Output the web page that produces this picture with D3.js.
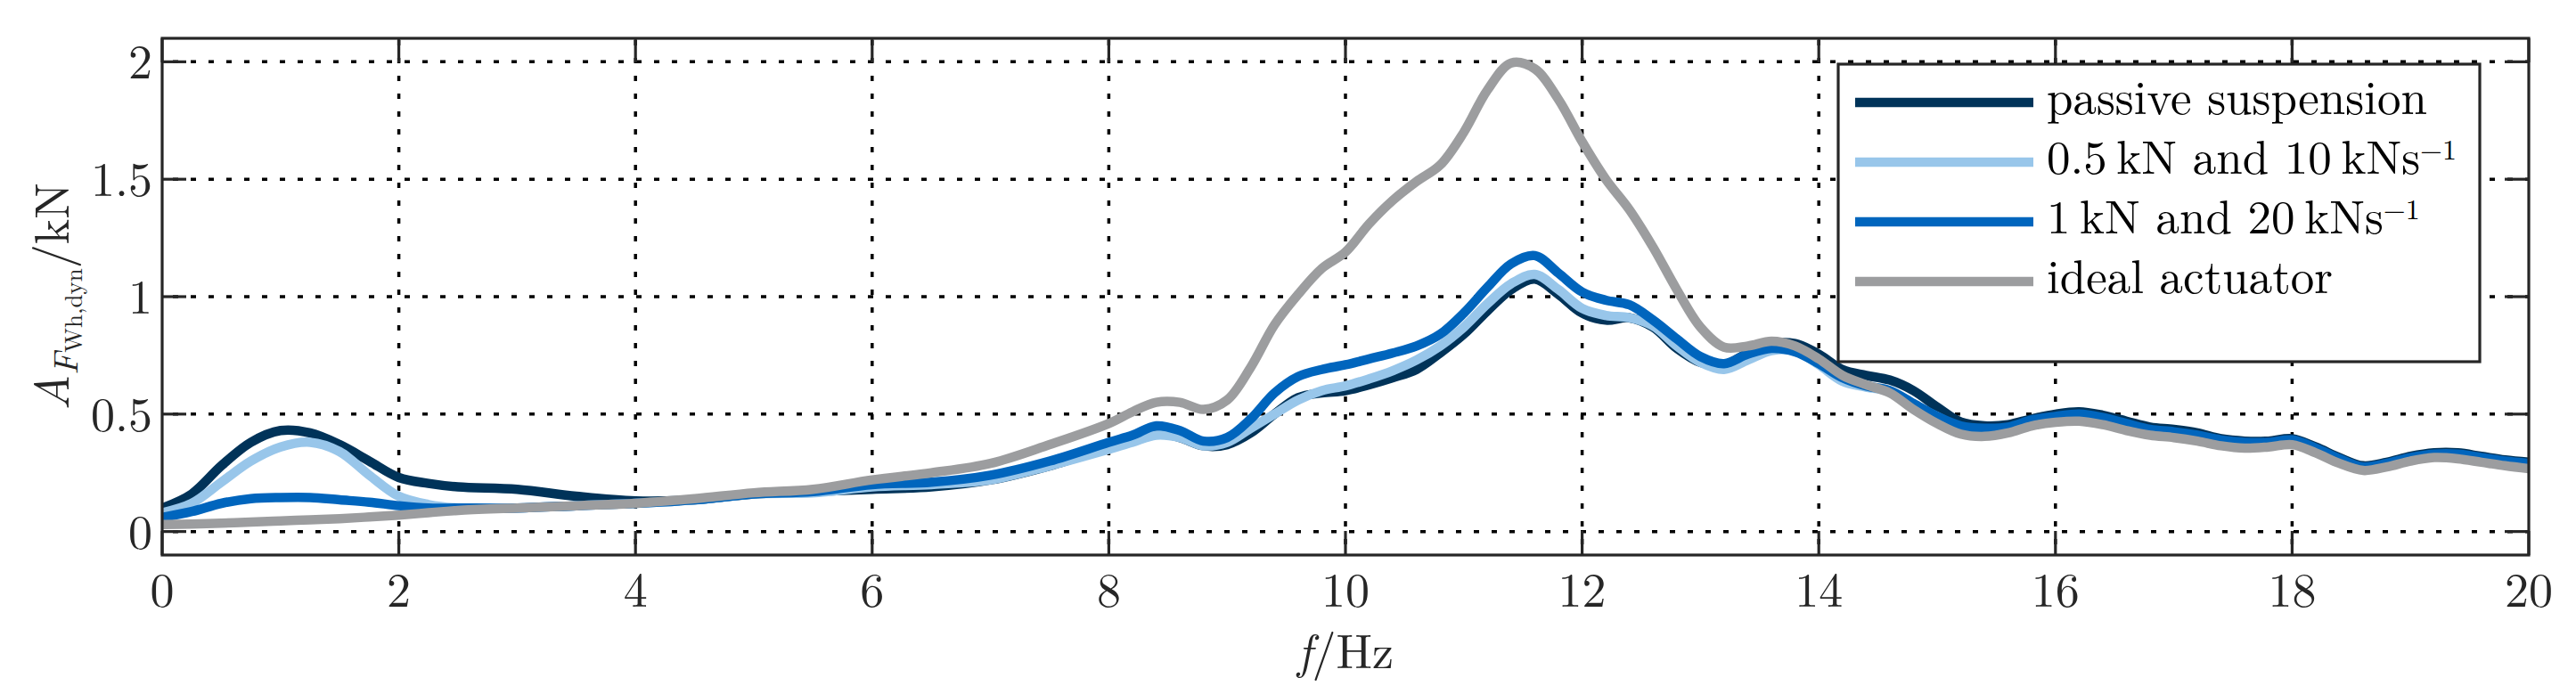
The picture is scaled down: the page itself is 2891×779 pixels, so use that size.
<!DOCTYPE html>
<html><head><meta charset="utf-8">
<script src="https://cdn.jsdelivr.net/npm/d3@7"></script>
<style>
html,body{margin:0;padding:0;background:#fff;}
svg text{font-family:"Latin Modern Roman","CMU Serif","Liberation Serif","DejaVu Serif",serif;fill:#262626;}
</style></head>
<body>
<svg id="chart" width="2891" height="779"></svg>
<script>
const freq = [0,0.25,0.5,0.75,1.0,1.25,1.5,1.75,2.0,2.25,2.5,3.0,3.5,4.0,4.5,5.0,5.5,6.0,6.5,7.0,7.5,8.0,8.2,8.4,8.6,8.8,9.0,9.2,9.4,9.6,9.8,10.0,10.2,10.4,10.6,10.8,11.0,11.2,11.4,11.6,11.8,12.0,12.2,12.4,12.6,12.8,13.0,13.2,13.4,13.6,13.8,14.0,14.2,14.4,14.6,14.8,15.0,15.2,15.4,15.6,15.8,16.0,16.2,16.4,16.6,16.8,17.0,17.2,17.4,17.6,17.8,18.0,18.2,18.4,18.6,18.8,19.0,19.2,19.4,19.6,19.8,20.0];

const passive = [0.10,0.16,0.28,0.38,0.43,0.42,0.37,0.30,0.23,0.205,0.19,0.18,0.15,0.13,0.135,0.16,0.17,0.18,0.19,0.22,0.28,0.36,0.39,0.42,0.40,0.365,0.37,0.42,0.50,0.57,0.59,0.60,0.625,0.655,0.69,0.76,0.84,0.94,1.03,1.075,1.01,0.93,0.90,0.91,0.87,0.78,0.72,0.71,0.76,0.80,0.80,0.755,0.69,0.665,0.645,0.60,0.53,0.466,0.45,0.455,0.48,0.50,0.51,0.495,0.47,0.445,0.435,0.42,0.395,0.385,0.385,0.395,0.36,0.315,0.28,0.295,0.32,0.335,0.335,0.32,0.305,0.295];

const act05 = [0.08,0.12,0.21,0.30,0.36,0.38,0.34,0.24,0.15,0.115,0.10,0.10,0.11,0.12,0.135,0.16,0.165,0.19,0.20,0.22,0.28,0.35,0.38,0.41,0.40,0.365,0.38,0.44,0.50,0.56,0.60,0.62,0.65,0.685,0.73,0.79,0.87,0.97,1.055,1.095,1.03,0.95,0.92,0.91,0.875,0.79,0.72,0.69,0.73,0.77,0.77,0.71,0.64,0.615,0.596,0.54,0.49,0.44,0.43,0.44,0.47,0.485,0.495,0.48,0.455,0.43,0.42,0.405,0.385,0.375,0.375,0.385,0.35,0.305,0.27,0.285,0.31,0.325,0.325,0.31,0.295,0.285];

const act1 = [0.06,0.085,0.12,0.14,0.145,0.145,0.135,0.125,0.11,0.10,0.10,0.10,0.11,0.12,0.135,0.16,0.17,0.20,0.21,0.24,0.30,0.38,0.41,0.45,0.43,0.385,0.40,0.48,0.59,0.66,0.69,0.71,0.735,0.76,0.79,0.84,0.93,1.04,1.14,1.175,1.10,1.02,0.985,0.965,0.90,0.82,0.745,0.715,0.755,0.78,0.765,0.715,0.655,0.62,0.60,0.545,0.49,0.45,0.44,0.445,0.475,0.49,0.50,0.485,0.46,0.435,0.425,0.41,0.39,0.38,0.38,0.39,0.355,0.31,0.275,0.29,0.315,0.33,0.33,0.315,0.30,0.29];

const ideal = [0.03,0.032,0.036,0.04,0.045,0.05,0.055,0.062,0.07,0.08,0.09,0.10,0.11,0.12,0.14,0.165,0.18,0.22,0.25,0.29,0.37,0.46,0.51,0.55,0.55,0.52,0.56,0.70,0.88,1.01,1.12,1.19,1.31,1.41,1.49,1.56,1.70,1.88,1.995,1.97,1.84,1.66,1.50,1.37,1.21,1.03,0.87,0.785,0.79,0.81,0.79,0.735,0.665,0.625,0.59,0.52,0.46,0.415,0.405,0.42,0.45,0.465,0.47,0.455,0.43,0.41,0.40,0.385,0.365,0.355,0.36,0.37,0.335,0.29,0.26,0.275,0.30,0.315,0.31,0.295,0.28,0.268];

const seriesNames = ["passive suspension", "0.5 kN and 10 kNs−1", "1 kN and 20 kNs−1", "ideal actuator"];
const seriesColors = ["#003359", "#98C6EA", "#0065BD", "#9C9D9F"];
const xTicks = [0,2,4,6,8,10,12,14,16,18,20];
const yTicks = [0,0.5,1,1.5,2];
const yTickLabels = ["0","0.5","1","1.5","2"];

const L = 182, R = 2838, T = 43, B = 623;
const svg = d3.select("#chart");
const x = d3.scaleLinear().domain([0,20]).range([L,R]);
const y = d3.scaleLinear().domain([-0.1,2.1]).range([B,T]);
const axisCol = "#262626";
const FS = 54;

// grid
const grid = svg.append("g");
grid.selectAll("line.gx").data(xTicks.slice(1,-1)).join("line")
  .attr("x1", d=>x(d)).attr("x2", d=>x(d)).attr("y1", B).attr("y2", T)
  .attr("stroke","#000").attr("stroke-width",3.5).attr("stroke-dasharray","6,14").attr("stroke-dashoffset",-12);
grid.selectAll("line.gy").data(yTicks).join("line")
  .attr("x1", L).attr("x2", R).attr("y1", d=>y(d)).attr("y2", d=>y(d))
  .attr("stroke","#000").attr("stroke-width",3.5).attr("stroke-dasharray","6,14").attr("stroke-dashoffset",-12);

// clip
svg.append("clipPath").attr("id","clip").append("rect")
  .attr("x",L).attr("y",T).attr("width",R-L).attr("height",B-T);

const data = [passive, act05, act1, ideal];
const line = d3.line().x((d,i)=>x(freq[i])).y(d=>y(d)).curve(d3.curveCatmullRom.alpha(0.5));
const lines = svg.append("g").attr("clip-path","url(#clip)");
data.forEach((vals,k)=>{
  lines.append("path").attr("d", line(vals)).attr("fill","none")
    .attr("stroke", seriesColors[k]).attr("stroke-width",10.5).attr("stroke-linejoin","round");
});

// axes (box + inward ticks on all sides)
const TL = 27;
const ax = svg.append("g");
ax.append("rect").attr("x",L).attr("y",T).attr("width",R-L).attr("height",B-T)
  .attr("fill","none").attr("stroke",axisCol).attr("stroke-width",3.2);
xTicks.forEach(t=>{
  ax.append("line").attr("x1",x(t)).attr("x2",x(t)).attr("y1",B).attr("y2",B-TL).attr("stroke",axisCol).attr("stroke-width",3.2);
  ax.append("line").attr("x1",x(t)).attr("x2",x(t)).attr("y1",T).attr("y2",T+TL).attr("stroke",axisCol).attr("stroke-width",3.2);
});
yTicks.forEach(t=>{
  ax.append("line").attr("x1",L).attr("x2",L+TL).attr("y1",y(t)).attr("y2",y(t)).attr("stroke",axisCol).attr("stroke-width",3.2);
  ax.append("line").attr("x1",R).attr("x2",R-TL).attr("y1",y(t)).attr("y2",y(t)).attr("stroke",axisCol).attr("stroke-width",3.2);
});
// tick labels
svg.append("g").selectAll("text").data(xTicks).join("text")
  .attr("x", d=>x(d)).attr("y", 681).attr("text-anchor","middle").attr("font-size",FS).text(d=>d);
svg.append("g").selectAll("text").data(yTicks).join("text")
  .attr("x", 171).attr("y", d=>y(d)+19).attr("text-anchor","end").attr("font-size",FS).text((d,i)=>yTickLabels[i]);

// x label
const xl = svg.append("text").attr("x",(L+R)/2).attr("y",750).attr("text-anchor","middle").attr("font-size",FS);
xl.append("tspan").attr("font-style","italic").text("f");
xl.append("tspan").text("/Hz");

// y label
const yl = svg.append("text").attr("transform",`translate(77,${(T+B)/2}) rotate(-90)`).attr("text-anchor","middle").attr("font-size",FS);
yl.append("tspan").attr("font-style","italic").text("A");
yl.append("tspan").attr("font-style","italic").attr("font-size",38).attr("dy",10).text("F");
yl.append("tspan").attr("font-size",27).attr("dy",5).text("Wh,dyn");
yl.append("tspan").attr("dy",-15).text("/kN");

// legend
const LFS = 53;
const lg = svg.append("g");
lg.append("rect").attr("x",2063).attr("y",72).attr("width",2783-2063).attr("height",406-72)
  .attr("fill","#fff").attr("stroke",axisCol).attr("stroke-width",3.2);
const rowY = [115, 182, 249, 316];
seriesNames.forEach((name,k)=>{
  lg.append("line").attr("x1",2082).attr("x2",2282).attr("y1",rowY[k]).attr("y2",rowY[k])
    .attr("stroke",seriesColors[k]).attr("stroke-width",10.5);
  const t = lg.append("text").attr("x",2297).attr("y",rowY[k]+13).attr("font-size",LFS).style("fill","#000");
  const m = name.match(/^(.*)−1$/);
  if (m) {
    const parts = m[1].split(" ");
    t.append("tspan").text(parts[0] + "\u2009kN and " + parts[3] + "\u2009kNs");
    t.append("tspan").attr("font-size",32).attr("dy",-16).text("−1");
  } else {
    t.text(name);
  }
});
</script>
</body></html>
